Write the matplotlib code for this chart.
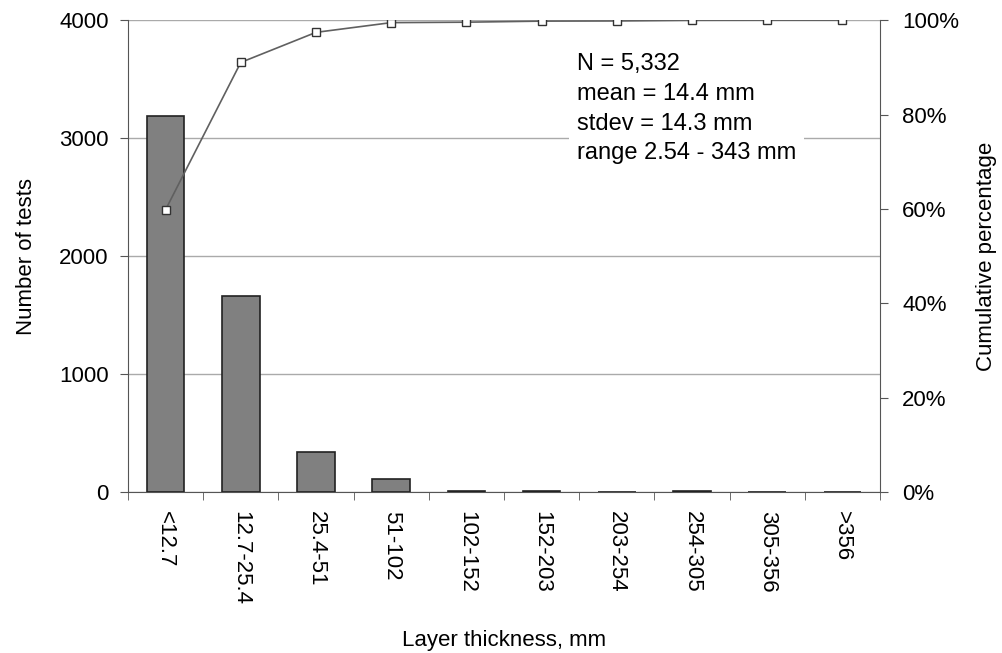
import matplotlib.pyplot as plt
import numpy as np

plt.rcParams["font.family"] = ["Liberation Sans", "DejaVu Sans"]

categories = ["<12.7", "12.7-25.4", "25.4-51", "51-102", "102-152",
              "152-203", "203-254", "254-305", "305-356", ">356"]
counts = [3190, 1665, 340, 110, 5, 12, 2, 7, 1, 0]
stats_text = "N = 5,332\nmean = 14.4 mm\nstdev = 14.3 mm\nrange 2.54 - 343 mm"

counts = np.array(counts)
cum_pct = np.cumsum(counts) / counts.sum() * 100
x = np.arange(len(categories))

fig = plt.figure(figsize=(10.02, 6.53), dpi=100)
ax = fig.add_axes([0.1277, 0.2466, 0.7505, 0.7224])

ax.bar(x, counts, width=0.5, color="#808080", edgecolor="#222222",
       linewidth=1.2, zorder=3)
ax.set_xlim(-0.5, len(categories) - 0.5)
ax.set_ylim(0, 4000)
ax.set_yticks([0, 1000, 2000, 3000, 4000])
ax.yaxis.grid(True, color="#aaaaaa", linewidth=1.0, zorder=0)
ax.set_axisbelow(True)

ax.set_xticks(x)
ax.set_xticklabels(categories, rotation=270, fontsize=16)
ax.set_xticks(np.arange(-0.5, len(categories)), minor=True)
ax.tick_params(axis="x", which="major", length=0, pad=14)
ax.tick_params(axis="x", which="minor", length=6, color="#555555")
ax.tick_params(axis="y", labelsize=16, length=6, color="#555555", pad=8)

for s in ["top", "right"]:
    ax.spines[s].set_visible(False)
ax.spines["left"].set_color("#555555")
ax.spines["bottom"].set_color("#555555")

ax.set_ylabel("Number of tests", fontsize=16, labelpad=16)
ax.set_xlabel("Layer thickness, mm", fontsize=16, labelpad=18)

ax2 = ax.twinx()
ax2.plot(x, cum_pct, color="#606060", linewidth=1.2, marker="s",
         markersize=5.5, markerfacecolor="white", markeredgecolor="#333333",
         zorder=5)
ax2.set_ylim(0, 100)
ax2.set_yticks([0, 20, 40, 60, 80, 100])
ax2.set_yticklabels([f"{v}%" for v in [0, 20, 40, 60, 80, 100]])
ax2.tick_params(axis="y", labelsize=16, length=6, color="#555555", pad=10)
for s in ["top", "left", "bottom"]:
    ax2.spines[s].set_visible(False)
ax2.spines["right"].set_color("#555555")
ax2.set_ylabel("Cumulative percentage", fontsize=16, labelpad=12)

ax2.text(0.597, 0.93, stats_text, transform=ax2.transAxes, fontsize=17,
         va="top", ha="left", linespacing=1.45,
         bbox=dict(facecolor="white", edgecolor="none", pad=6))

fig.savefig("out.png", dpi=100)
